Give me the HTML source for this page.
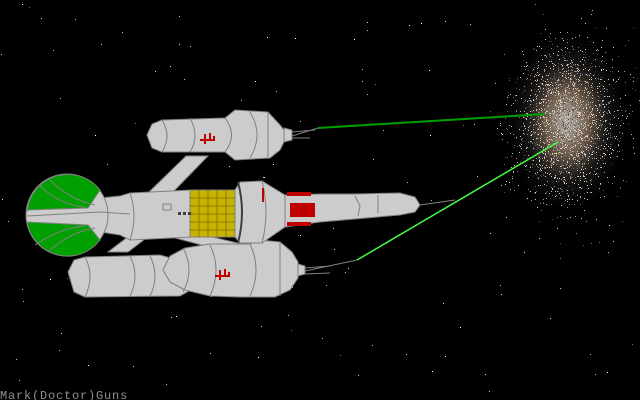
<!DOCTYPE html>
<html><head><meta charset="utf-8"><style>
html,body{margin:0;padding:0;background:#000;width:640px;height:400px;overflow:hidden}
svg{display:block}
</style></head><body>
<svg id="s" width="640" height="400" viewBox="0 0 640 400" xmlns="http://www.w3.org/2000/svg">
<rect width="640" height="400" fill="#000"/>
<defs>
<radialGradient id="neb" cx="50%" cy="50%" r="50%">
<stop offset="0" stop-color="#c8c8c8" stop-opacity="0.9"/>
<stop offset="0.35" stop-color="#e0bc98" stop-opacity="0.5"/>
<stop offset="0.7" stop-color="#606060" stop-opacity="0.2"/>
<stop offset="1" stop-color="#404040" stop-opacity="0"/>
</radialGradient>
</defs>
<g id="stars"></g>
<ellipse cx="567" cy="122" rx="60" ry="88" fill="url(#neb)"/>
<g id="nebdots"></g>

<g stroke="#808080" stroke-width="1" fill="#cccccc">
<!-- struts -->
<polygon points="148,193 172,193 208,156 186,156"/>
<polygon points="108,252 128,252 162,226 142,226" />
<polygon points="145,230 162,225 250,246 228,252"/>

<!-- upper pod -->
<path d="M147,135 L152,124 L162,120 L225,118 L235,110 L268,112 L280,125 L284,130 L284,142 L280,150 L270,158 L235,160 L225,152 L162,152 L152,148 Z"/>
<path d="M162,120 Q172,136 162,152 M190,118 Q200,136 190,152 M225,118 Q238,135 225,152 M250,112 Q264,135 250,158 M268,113 L268,157" fill="none"/>
<polygon points="284,128 292,130 292,140 284,142"/>
<!-- lower rear pod -->
<path d="M68,272 L74,260 L85,257 L160,255 L185,262 L200,270 L200,285 L180,296 L85,297 L74,292 Z"/>
<path d="M85,257 Q95,276 85,297 M130,256 Q140,276 130,296 M150,256 Q160,276 150,296" fill="none"/>
<!-- lower front pod -->
<path d="M163,270 L170,256 L185,248 L210,244 L250,244 L260,240 L280,242 L292,252 L298,262 L298,278 L290,290 L275,297 L240,297 L210,296 L185,290 L170,282 Z"/>
<path d="M183,248 Q195,270 183,292 M210,245 Q222,270 210,296 M250,244 Q262,270 250,296 M280,243 L280,296" fill="none"/>
<polygon points="298,264 305,266 305,274 298,276"/>

<!-- main hull -->
<path d="M100,198 L120,196 L130,193 L192,190 L235,190 L240,182 L262,181 L285,195 L320,194 L355,194 L400,193 L415,197 L420,205 L415,212 L400,215 L320,222 L285,227 L262,243 L240,243 L235,237 L192,237 L130,240 L120,235 L100,232 Z"/>
<path d="M130,193 Q138,216 130,240 M262,181 Q270,212 262,243 M285,195 L285,227 M355,196 L360,206 L358,216 M378,195 L378,213" fill="none"/>
<!-- sphere -->
<circle cx="67" cy="215" r="41"/>
</g>
<!-- green sphere caps -->
<g fill="#00a000" stroke="#808080">
<path d="M27,212 A41,41 0 0 1 100,190 L88,208 L27,210 Z"/>
<path d="M27,222 A41,41 0 0 0 100,240 L88,225 L27,222 Z"/>
</g>
<g stroke="#808080" fill="none">
<path d="M40,186 Q60,205 85,207 M50,180 Q70,200 95,205 M35,245 Q60,228 85,226 M48,252 Q70,232 95,228"/>
<path d="M27,216 L100,212 L130,214"/>
</g>
<!-- yellow section -->
<rect x="190" y="190" width="45" height="47" fill="#c8b400" stroke="#808080"/>
<g stroke="#8a7c00"><path d="M190,198h45M190,206h45M190,214h45M190,222h45M190,230h45M199,190v47M208,190v47M217,190v47M226,190v47"/></g>
<path d="M238,182 Q246,212 238,243" stroke="#404040" stroke-width="2" fill="none"/>
<!-- red section -->
<g fill="#c00000">
<rect x="290" y="203" width="25" height="14"/>
<rect x="287" y="192" width="24" height="4"/>
<rect x="287" y="222" width="24" height="4"/>
<rect x="262" y="188" width="2" height="14"/>
<path d="M200,140 h14 v-4 M205,134 l0,10 M210,133 v7" stroke="#c00000" stroke-width="2" fill="none"/>
<path d="M215,276 h14 v-4 M220,270 l0,10 M225,269 v7" stroke="#c00000" stroke-width="2" fill="none"/>
</g>
<g fill="#404040"><rect x="178" y="212" width="3" height="3"/><rect x="183" y="212" width="3" height="3"/><rect x="188" y="212" width="3" height="3"/></g>
<rect x="163" y="204" width="8" height="6" fill="none" stroke="#808080"/>
<!-- exhaust lines -->
<g stroke="#808080"><path d="M292,132 L315,130 M292,136 L318,128 M292,138 L310,138 M305,268 L330,266 M305,271 L357,260 M305,274 L330,273 M420,205 L455,200"/></g>
<line x1="318" y1="128" x2="545" y2="114" stroke="#00a000" stroke-width="2"/>
<line x1="357" y1="260" x2="558" y2="142" stroke="#40ff40" stroke-width="1.5"/>
<text x="0" y="399" font-family="Liberation Mono, monospace" font-size="12" letter-spacing="0.8" fill="#909090">Mark(Doctor)Guns</text>
</svg>
<script>
var s=12345;function r(){s=(s*16807)%2147483647;return s/2147483647;}
var g=document.getElementById("stars"),h="";
var cols=["#ffffff","#c0c0c0","#ff3030","#e0c060","#ffd8b0"];
for(var i=0;i<140;i++){h+='<rect x="'+Math.floor(r()*640)+'" y="'+Math.floor(r()*400)+'" width="1" height="1" fill="'+cols[Math.floor(r()*5)]+'"/>';}
g.innerHTML=h;h="";
var nc=["#f0c8a0","#c8c8c8","#808080","#606060","#e8c8a8","#a0a0a0","#505050"];
for(var i=0;i<2500;i++){var a=r()*6.283,d=Math.sqrt(-2*Math.log(r()+1e-9))*0.45;
var x=567+Math.cos(a)*d*55,y=122+Math.sin(a)*d*80;
h+='<rect x="'+Math.floor(x)+'" y="'+Math.floor(y)+'" width="1" height="1" fill="'+nc[Math.floor(r()*7)]+'"/>';}
document.getElementById("nebdots").innerHTML=h;
</script>
</body></html>
